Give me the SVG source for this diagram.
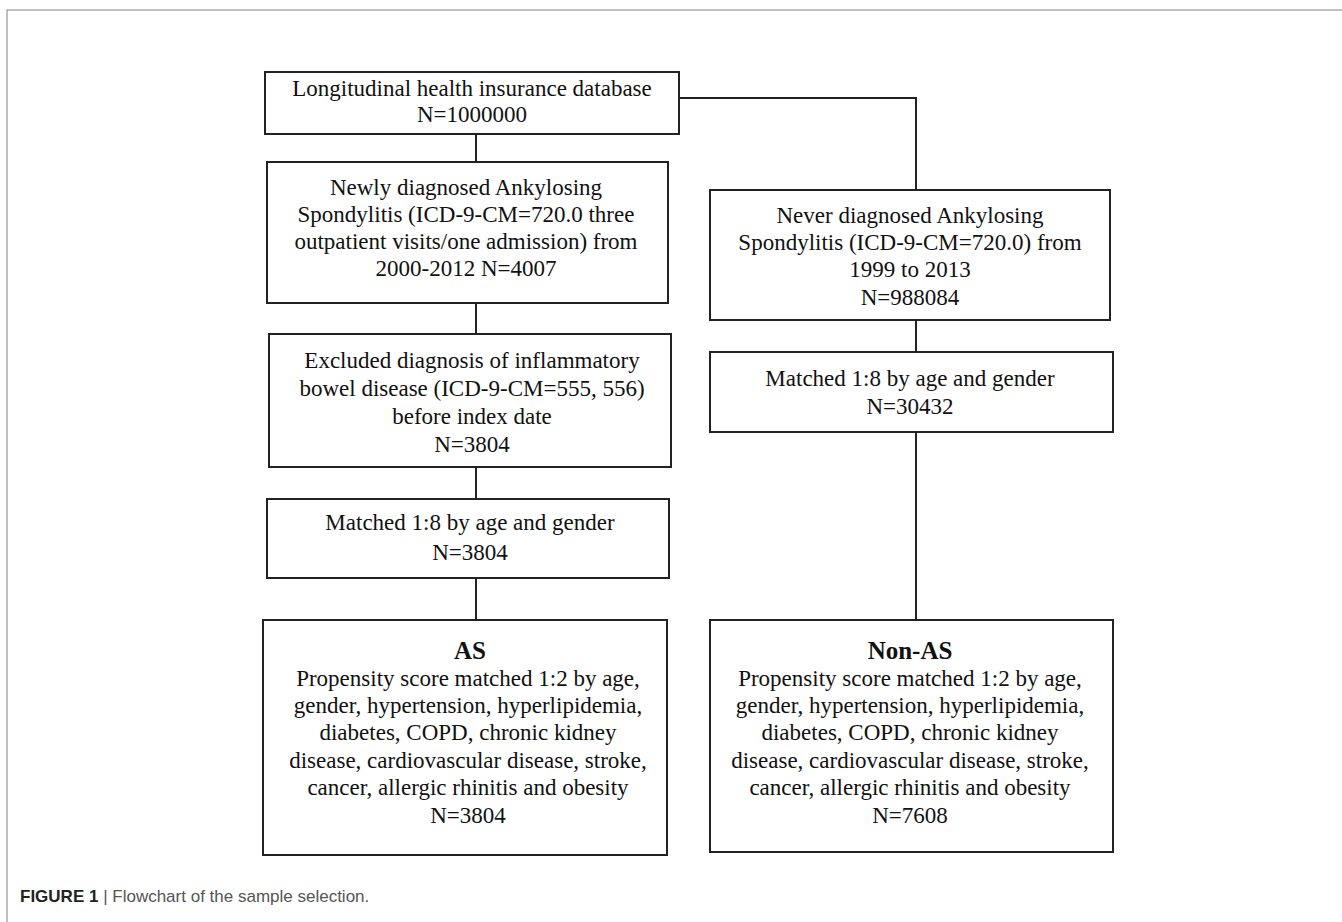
<svg xmlns="http://www.w3.org/2000/svg" width="1342" height="922" viewBox="0 0 1342 922">
<style>
.box{fill:#fff;stroke:#222;stroke-width:2}
.t{font-family:"Liberation Serif","Times New Roman",serif;font-size:23px;fill:#111;text-anchor:middle}
.b{font-weight:bold;font-size:25px}
.conn{stroke:#222;stroke-width:2;fill:none}
.frame{stroke:#aaa;stroke-width:1.5;fill:none}
.cap{font-family:"Liberation Sans",Arial,sans-serif;font-size:17px;fill:#555}
</style>
<rect width="1342" height="922" fill="#fff"/>
<path class="frame" d="M7,922 V10 H1342"/>
<g id="connectors">
<path class="conn" d="M476,134 V162"/>
<path class="conn" d="M679,98 H916 V190"/>
<path class="conn" d="M476,303 V334"/>
<path class="conn" d="M476,467 V499"/>
<path class="conn" d="M476,578 V620"/>
<path class="conn" d="M916,320 V352"/>
<path class="conn" d="M916,432 V620"/>
</g>
<g id="n_db">
<rect class="box" x="265" y="72" width="414" height="62"/>
<text class="t" x="472" y="96">Longitudinal health insurance database</text>
<text class="t" x="472" y="122">N=1000000</text>
</g>
<g id="n_newly">
<rect class="box" x="267" y="162" width="401" height="141"/>
<text class="t" x="466" y="195">Newly diagnosed Ankylosing</text>
<text class="t" x="466" y="222">Spondylitis (ICD-9-CM=720.0 three</text>
<text class="t" x="466" y="249">outpatient visits/one admission) from</text>
<text class="t" x="466" y="276">2000-2012 N=4007</text>
</g>
<g id="n_excluded">
<rect class="box" x="269" y="334" width="402" height="133"/>
<text class="t" x="472" y="368">Excluded diagnosis of inflammatory</text>
<text class="t" x="472" y="396">bowel disease (ICD-9-CM=555, 556)</text>
<text class="t" x="472" y="424">before index date</text>
<text class="t" x="472" y="452">N=3804</text>
</g>
<g id="n_matched_as">
<rect class="box" x="267" y="499" width="402" height="79"/>
<text class="t" x="470" y="530">Matched 1:8 by age and gender</text>
<text class="t" x="470" y="560">N=3804</text>
</g>
<g id="n_as">
<rect class="box" x="263" y="620" width="404" height="235"/>
<text class="t b" x="470" y="659">AS</text>
<text class="t" x="468" y="686">Propensity score matched 1:2 by age,</text>
<text class="t" x="468" y="713">gender, hypertension, hyperlipidemia,</text>
<text class="t" x="468" y="740">diabetes, COPD, chronic kidney</text>
<text class="t" x="468" y="768">disease, cardiovascular disease, stroke,</text>
<text class="t" x="468" y="795">cancer, allergic rhinitis and obesity</text>
<text class="t" x="468" y="823">N=3804</text>
</g>
<g id="n_never">
<rect class="box" x="710" y="190" width="400" height="130"/>
<text class="t" x="910" y="223">Never diagnosed Ankylosing</text>
<text class="t" x="910" y="250">Spondylitis (ICD-9-CM=720.0) from</text>
<text class="t" x="910" y="277">1999 to 2013</text>
<text class="t" x="910" y="305">N=988084</text>
</g>
<g id="n_matched_non">
<rect class="box" x="710" y="352" width="403" height="80"/>
<text class="t" x="910" y="386">Matched 1:8 by age and gender</text>
<text class="t" x="910" y="414">N=30432</text>
</g>
<g id="n_nonas">
<rect class="box" x="710" y="620" width="403" height="232"/>
<text class="t b" x="910" y="659">Non-AS</text>
<text class="t" x="910" y="686">Propensity score matched 1:2 by age,</text>
<text class="t" x="910" y="713">gender, hypertension, hyperlipidemia,</text>
<text class="t" x="910" y="740">diabetes, COPD, chronic kidney</text>
<text class="t" x="910" y="768">disease, cardiovascular disease, stroke,</text>
<text class="t" x="910" y="795">cancer, allergic rhinitis and obesity</text>
<text class="t" x="910" y="823">N=7608</text>
</g>
<text class="cap" x="20" y="902"><tspan font-weight="bold" fill="#222">FIGURE 1</tspan> | Flowchart of the sample selection.</text>
</svg>
